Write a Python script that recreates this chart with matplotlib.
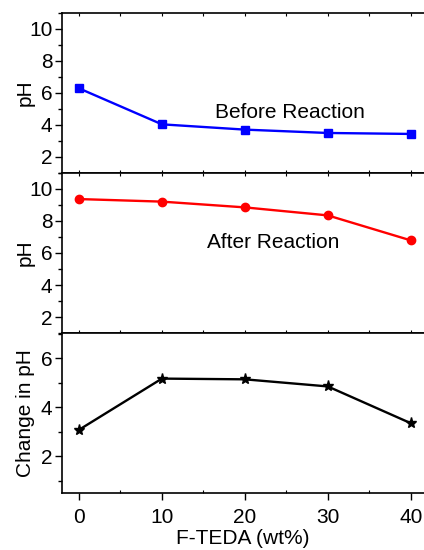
import matplotlib
matplotlib.use("Agg")
import matplotlib.pyplot as plt
from matplotlib.ticker import MultipleLocator

plt.rcParams['font.family'] = ['Liberation Sans', 'DejaVu Sans']
plt.rcParams['font.size'] = 15

# F-TEDA loading (wt%)
fteda = [0, 10, 20, 30, 40]
# pH before and after the reaction
ph_before = [6.29, 4.04, 3.71, 3.50, 3.44]
ph_after = [9.37, 9.21, 8.85, 8.35, 6.79]
# change in pH (after - before)
ph_change = [3.08, 5.17, 5.14, 4.85, 3.35]

fig = plt.figure(figsize=(4.24, 5.5), dpi=100)
left, width = 0.1462, 0.8538
ax1 = fig.add_axes([left, 0.6855, width, 0.2909])
ax2 = fig.add_axes([left, 0.3945, width, 0.2910])
ax3 = fig.add_axes([left, 0.1036, width, 0.2909])


def style(ax):
    ax.set_xlim(-2.05, 41.6)
    ax.spines['right'].set_visible(False)
    for s in ('left', 'top', 'bottom'):
        ax.spines[s].set_linewidth(1.2)
    ax.xaxis.set_major_locator(MultipleLocator(10))
    ax.xaxis.set_minor_locator(MultipleLocator(5))
    ax.yaxis.set_major_locator(MultipleLocator(2))
    ax.yaxis.set_minor_locator(MultipleLocator(1))
    ax.tick_params(axis='y', which='major', direction='out', length=5, width=1, pad=2)
    ax.tick_params(axis='y', which='minor', direction='out', length=3, width=1)
    ax.tick_params(axis='x', which='both', direction='in', length=2, width=0.8,
                   top=True, bottom=True, labelbottom=False)


# before reaction
style(ax1)
ax1.plot(fteda, ph_before, color='#0000ff', lw=1.7, marker='s', ms=5.5)
ax1.set_ylim(1, 11)
ax1.set_ylabel('pH')
ax1.text(25.4, 4.75, 'Before Reaction', ha='center', va='center')

# after reaction
style(ax2)
ax2.plot(fteda, ph_after, color='#ff0000', lw=1.7, marker='o', ms=6)
ax2.set_ylim(1, 11)
ax2.set_ylabel('pH')
ax2.text(23.4, 6.66, 'After Reaction', ha='center', va='center')

# change in pH
style(ax3)
ax3.plot(fteda, ph_change, color='black', lw=1.7, marker='*', ms=8)
ax3.set_ylim(0.5, 7.03)
ax3.set_ylabel('Change in pH')
ax3.tick_params(axis='x', which='major', direction='out', length=5, width=1,
                top=False, labelbottom=True, pad=6)
ax3.tick_params(axis='x', which='minor', direction='in', length=2, top=False)
ax3.set_xlabel('F-TEDA (wt%)', labelpad=1)

for ax in (ax1, ax2, ax3):
    ax.yaxis.set_label_coords(-0.075, 0.5)

fig.savefig('out.png', dpi=100)
